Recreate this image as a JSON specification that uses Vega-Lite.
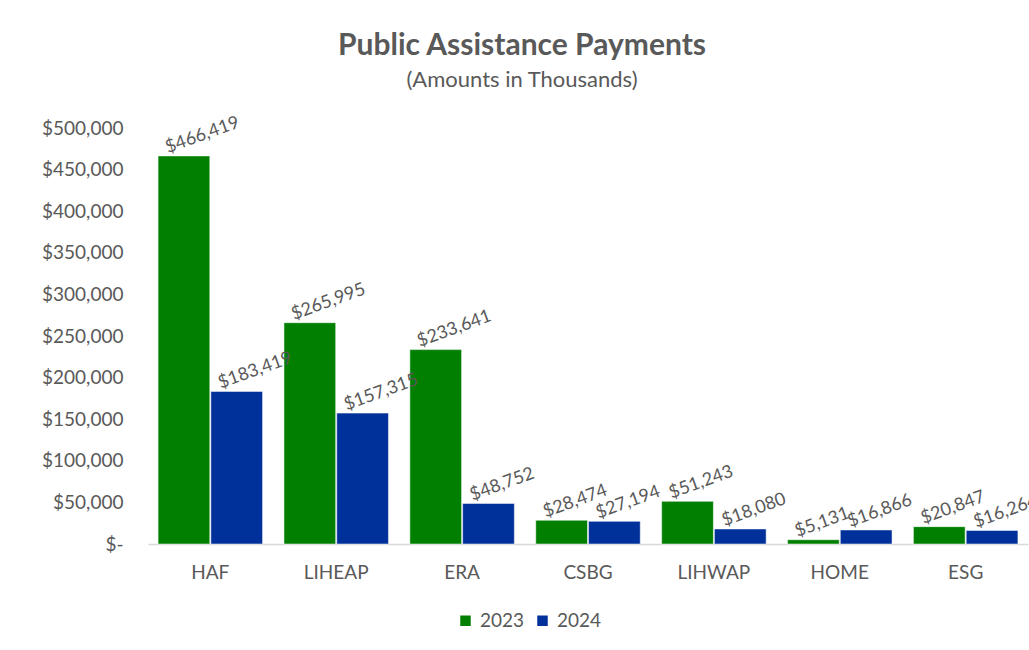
{
  "$schema": "https://vega.github.io/schema/vega-lite/v6.json",
  "width": 880,
  "height": 416,
  "autosize": {"type": "none"},
  "padding": {"left": 148, "top": 128, "right": 1, "bottom": 106},
  "background": "white",
  "config": {"view": {"stroke": null}},
  "title": {
    "text": "Public Assistance Payments",
    "subtitle": "(Amounts in Thousands)",
    "font": "Lato",
    "fontSize": 30,
    "fontWeight": "bold",
    "color": "#595959",
    "subtitleFont": "Lato",
    "subtitleFontSize": 22,
    "subtitleColor": "#595959",
    "subtitlePadding": 9,
    "anchor": "middle",
    "dx": -66,
    "offset": 23
  },
  "data": {
    "values": [
      {"program": "HAF", "year": "2023", "amount": 466419},
      {"program": "HAF", "year": "2024", "amount": 183419},
      {"program": "LIHEAP", "year": "2023", "amount": 265995},
      {"program": "LIHEAP", "year": "2024", "amount": 157315},
      {"program": "ERA", "year": "2023", "amount": 233641},
      {"program": "ERA", "year": "2024", "amount": 48752},
      {"program": "CSBG", "year": "2023", "amount": 28474},
      {"program": "CSBG", "year": "2024", "amount": 27194},
      {"program": "LIHWAP", "year": "2023", "amount": 51243},
      {"program": "LIHWAP", "year": "2024", "amount": 18080},
      {"program": "HOME", "year": "2023", "amount": 5131},
      {"program": "HOME", "year": "2024", "amount": 16866},
      {"program": "ESG", "year": "2023", "amount": 20847},
      {"program": "ESG", "year": "2024", "amount": 16264}
    ]
  },
  "encoding": {
    "x": {
      "field": "program",
      "type": "nominal",
      "sort": null,
      "title": null,
      "scale": {"paddingInner": 0.17, "paddingOuter": 0.08},
      "axis": {
        "labelAngle": 0,
        "labelFont": "Lato",
        "labelFontSize": 19,
        "labelColor": "#595959",
        "labelPadding": 19,
        "ticks": false,
        "domainColor": "#D9D9D9",
        "domainWidth": 1.5
      }
    },
    "xOffset": {"field": "year", "type": "nominal", "scale": {"paddingInner": 0.02}},
    "y": {
      "field": "amount",
      "type": "quantitative",
      "title": null,
      "scale": {"domain": [0, 500000]},
      "axis": {
        "values": [0, 50000, 100000, 150000, 200000, 250000, 300000, 350000, 400000, 450000, 500000],
        "labelExpr": "datum.value == 0 ? '$-   ' : '$' + format(datum.value, ',')",
        "labelFont": "Lato",
        "labelFontSize": 19,
        "labelColor": "#595959",
        "labelPadding": 25,
        "ticks": false,
        "domain": false,
        "grid": false
      }
    }
  },
  "layer": [
    {
      "mark": {"type": "bar", "stroke": "white", "strokeWidth": 0.5},
      "encoding": {
        "color": {
          "field": "year",
          "type": "nominal",
          "title": null,
          "scale": {"domain": ["2023", "2024"], "range": ["#007F00", "#00309A"]},
          "legend": {
            "orient": "none",
            "legendX": 308,
            "legendY": 483,
            "direction": "horizontal",
            "symbolType": "square",
            "symbolSize": 110,
            "symbolStrokeWidth": 0,
            "labelFont": "Lato",
            "labelFontSize": 19,
            "labelColor": "#595959",
            "columnPadding": 8,
            "labelOffset": 5
          }
        }
      }
    },
    {
      "mark": {
        "type": "text",
        "angle": -20,
        "align": "left",
        "baseline": "alphabetic",
        "dx": -14,
        "dy": -8,
        "font": "Lato",
        "fontSize": 18,
        "color": "#595959"
      },
      "encoding": {
        "text": {"field": "amount", "type": "quantitative", "format": "$,.0f"}
      }
    }
  ]
}
